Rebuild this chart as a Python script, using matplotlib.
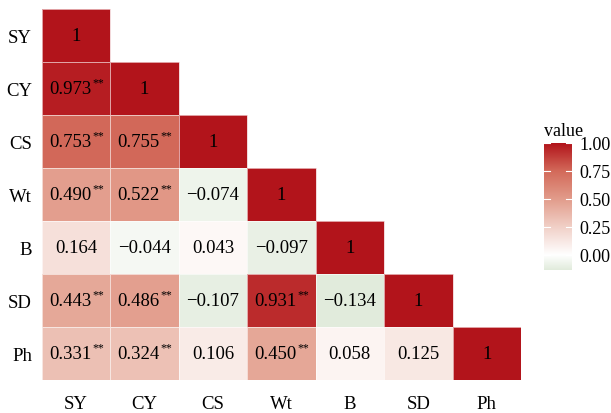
import numpy as np
import matplotlib
matplotlib.use("Agg")
import matplotlib.pyplot as plt
from matplotlib.colors import LinearSegmentedColormap, Normalize

plt.rcParams['font.family'] = ['Liberation Serif', 'DejaVu Serif']

# Merkmale und Korrelationen (untere Dreiecksmatrix)
labels = ["SY", "CY", "CS", "Wt", "B", "SD", "Ph"]
corr_rows = [
    [1],
    [0.973, 1],
    [0.753, 0.755, 1],
    [0.490, 0.522, -0.074, 1],
    [0.164, -0.044, 0.043, -0.097, 1],
    [0.443, 0.486, -0.107, 0.931, -0.134, 1],
    [0.331, 0.324, 0.106, 0.450, 0.058, 0.125, 1],
]
sig_rows = [
    [""],
    ["**", ""],
    ["**", "**", ""],
    ["**", "**", "", ""],
    ["", "", "", "", ""],
    ["**", "**", "", "**", "", ""],
    ["**", "**", "", "**", "", "", ""],
]
cbar_ticks = [0.00, 0.25, 0.50, 0.75, 1.00]

n = len(labels)
mat = np.full((n, n), np.nan)
for i, row in enumerate(corr_rows):
    mat[i, :len(row)] = row
vmin = np.nanmin(mat)
vmax = 1.0

# Farbverlauf gruen - weiss - rot
stops = [(-0.134, (225, 235, 220)), (0.0, (255, 255, 255)), (0.25, (241, 208, 199)),
         (0.5, (226, 156, 139)), (0.75, (211, 106, 90)), (1.0, (178, 20, 27))]
cmap = LinearSegmentedColormap.from_list(
    "corr", [((v - vmin) / (vmax - vmin), tuple(c / 255 for c in col)) for v, col in stops])
norm = Normalize(vmin, vmax)

W, H = 611, 414
fig = plt.figure(figsize=(W / 100, H / 100), dpi=100)
ax = fig.add_axes([41.7 / W, (H - 381) / H, (521 - 41.7) / W, 371 / H])

ax.pcolormesh(np.ma.masked_invalid(mat), cmap=cmap, norm=norm,
              edgecolors=(1, 1, 1, 0.6), linewidth=0.5)
ax.set_xlim(0, n)
ax.set_ylim(n, 0)
for s in ax.spines.values():
    s.set_visible(False)
ax.set_xticks(np.arange(n) + 0.5, labels, fontsize=13.5)
ax.set_yticks(np.arange(n) + 0.5, labels, fontsize=13.5)
ax.tick_params(axis="x", length=0, pad=11)
ax.tick_params(axis="y", length=0, pad=7)

for i, row in enumerate(corr_rows):
    for j, v in enumerate(row):
        txt = "1" if v == 1 else f"{v:.3f}".replace("-", "\u2212")
        star = sig_rows[i][j]
        dx = -0.085 if star else 0
        t = ax.text(j + 0.5 + dx, i + 0.5, txt, ha="center", va="center", fontsize=13.5)
        if star:
            ax.annotate(star, xy=(1, 1), xycoords=t, xytext=(0.6, 2.5),
                        textcoords="offset points", ha="left", va="top", fontsize=8.5)

# Farbskala
cax = fig.add_axes([544 / W, (H - 271) / H, 28 / W, 127 / H])
grad = np.linspace(vmin, vmax, 256).reshape(-1, 1)
cax.imshow(grad, cmap=cmap, norm=norm, aspect="auto", origin="lower",
           extent=[0, 1, vmin, vmax])
cax.set_xlim(0, 1)
cax.set_ylim(vmin, vmax)
cax.set_xticks([])
cax.yaxis.tick_right()
cax.set_yticks(cbar_ticks, [f"{t:.2f}" for t in cbar_ticks], fontsize=13)
cax.tick_params(axis="y", length=0, pad=5)
for s in cax.spines.values():
    s.set_visible(False)
for tk in cbar_ticks:
    cax.plot([0, 0.2], [tk, tk], color="white", lw=0.8)
    cax.plot([0.8, 1], [tk, tk], color="white", lw=0.8)
fig.text(544 / W, 1 - 132 / H, "value", ha="left", va="center", fontsize=13)

fig.savefig("out.png", dpi=100)
